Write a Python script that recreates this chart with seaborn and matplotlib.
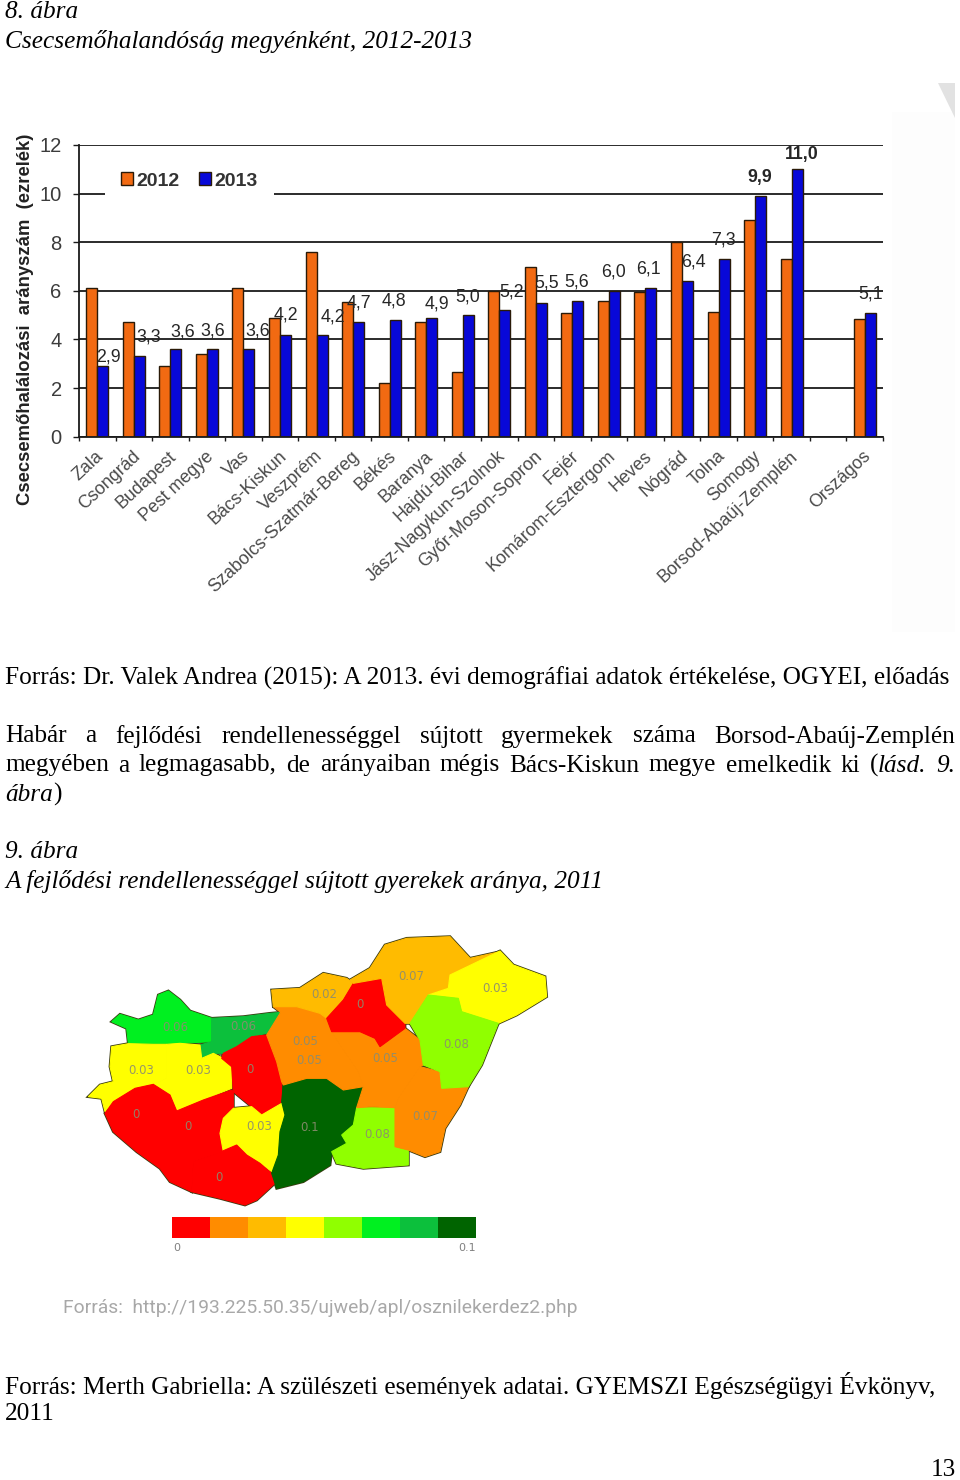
import numpy as np
import pandas as pd
import matplotlib
matplotlib.use("Agg")
import matplotlib.pyplot as plt
from matplotlib.colors import ListedColormap
from matplotlib.patches import Polygon, Rectangle
from matplotlib.transforms import ScaledTranslation
import seaborn as sns

# ---------- bar chart data ----------
counties = ["Zala", "Csongrád", "Budapest", "Pest megye", "Vas", "Bács-Kiskun", "Veszprém",
            "Szabolcs-Szatmár-Bereg", "Békés", "Baranya", "Hajdú-Bihar", "Jász-Nagykun-Szolnok",
            "Győr-Moson-Sopron", "Fejér", "Komárom-Esztergom", "Heves", "Nógrád", "Tolna",
            "Somogy", "Borsod-Abaúj-Zemplén", " ", "Országos"]
values_2012 = [6.1, 4.7, 2.9, 3.4, 6.1, 4.9, 7.6, 5.55, 2.2, 4.7, 2.65, 6.0, 7.0, 5.1, 5.6,
               5.95, 8.0, 5.15, 8.9, 7.3, np.nan, 4.85]
values_2013 = [2.9, 3.3, 3.6, 3.6, 3.6, 4.2, 4.2, 4.7, 4.8, 4.9, 5.0, 5.2, 5.5, 5.6, 6.0,
               6.1, 6.4, 7.3, 9.9, 11.0, np.nan, 5.1]
label_dx = [6, 9, 7, 0, 9, 0, 11, 0, -1, 5, -1, 7, 5, -1, -1, -2, 6, -1, -1, 5, 0, 0]
label_dy = [9, 19, 17, 18, 18, 20, 18, 19, 19, 14, 18, 18, 20, 19, 19, 19, 19, 19, 19, 15, 0, 19]
year_colors = {"2012": "#f26a12", "2013": "#0808d8"}
y_ticks = [0, 2, 4, 6, 8, 10, 12]

# ---------- map data (outlines in the 3x zoomed map space) ----------
class_colors = ["#ff0000", "#ff8c00", "#ffbb00", "#ffff00", "#90ff00", "#00f020", "#0cc03c", "#006400"]
legend_classes = [0, 1, 2, 3, 4, 5, 6, 7]
regions = {
    "Győr-Moson-Sopron": (5, [(125,290),(150,268),(205,285),(250,270),(265,210),(295,198),(330,225),(360,258),(425,280),(425,350),(330,355),(175,355),(170,310)]),
    "Komárom-Esztergom": (6, [(425,280),(520,275),(600,265),(632,262),(625,285),(590,325),(545,335),(500,365),(460,385),(430,385),(395,400),(390,360),(425,350)]),
    "Vas": (3, [(125,365),(175,356),(250,358),(290,358),(290,460),(250,478),(195,490),(130,530),(105,560),(95,520),(55,515),(90,480),(130,470),(120,425)]),
    "Veszprém": (3, [(290,358),(330,355),(390,360),(395,400),(430,385),(460,400),(485,425),(485,490),(400,525),(320,558),(300,510),(250,478),(290,460)]),
    "Zala": (0, [(105,565),(130,530),(195,490),(250,478),(300,510),(320,558),(400,525),(485,495),(490,500),(490,550),(460,580),(450,625),(460,680),(430,690),(370,710),(365,800),(300,770),(270,730),(200,680),(130,620)]),
    "Fejér": (0, [(460,385),(500,365),(545,335),(590,330),(620,410),(635,470),(635,530),(600,560),(575,570),(545,545),(490,500),(485,425),(455,400)]),
    "Tolna": (3, [(490,550),(545,545),(575,570),(635,535),(645,570),(630,620),(625,690),(605,740),(570,715),(530,690),(500,660),(460,680),(450,625),(460,580)]),
    "Baranya": (0, [(370,710),(430,690),(500,660),(530,690),(570,715),(605,745),(620,770),(560,825),(525,840),(450,820),(365,800)]),
    "Bács-Kiskun": (7, [(640,480),(710,460),(770,460),(820,495),(880,485),(860,548),(850,600),(815,630),(830,655),(785,680),(780,720),(700,770),(620,790),(605,745),(625,690),(630,620),(645,570),(635,530)]),
    "Csongrád": (4, [(860,548),(975,548),(975,665),(1015,675),(1015,720),(880,730),(800,715),(785,680),(830,655),(815,630),(850,600)]),
    "Békés": (1, [(985,520),(1050,425),(1110,440),(1115,490),(1195,485),(1170,540),(1125,610),(1110,680),(1065,695),(1015,675),(975,665),(975,548)]),
    "Jász-Nagykun-Szolnok": (1, [(785,320),(810,320),(870,320),(915,340),(930,365),(1005,310),(1050,345),(1060,420),(1050,425),(985,520),(975,548),(905,545),(860,548),(880,485),(865,440),(810,360)]),
    "Pest": (1, [(610,245),(680,245),(750,265),(770,280),(785,320),(810,360),(865,440),(880,485),(820,495),(770,460),(710,460),(640,480),(635,470),(620,410),(590,330),(632,262)]),
    "Nógrád": (2, [(605,195),(690,190),(760,145),(830,160),(850,175),(820,225),(770,280),(750,265),(680,245),(610,245)]),
    "Heves": (0, [(850,175),(935,160),(950,240),(1005,295),(1005,310),(930,365),(915,340),(870,320),(810,320),(785,320),(770,280),(820,225)]),
    "Borsod": (2, [(840,165),(900,130),(945,60),(1010,40),(1140,35),(1200,100),(1290,80),(1140,150),(1135,190),(1075,210),(1020,295),(1005,295),(950,240),(935,160),(850,175)]),
    "Szabolcs": (3, [(1140,150),(1290,78),(1330,120),(1425,155),(1430,215),(1340,270),(1285,295),(1175,260),(1165,220),(1075,210),(1135,190)]),
    "Hajdú-Bihar": (4, [(1075,210),(1165,220),(1175,260),(1285,295),(1235,420),(1195,485),(1115,490),(1110,440),(1060,420),(1050,345),(1020,295)]),
}
map_labels = [("0.07",1025,155),("0.03",1275,190),("0.02",762,208),("0",870,240),("0.05",705,350),
              ("0.05",718,405),("0.05",945,402),("0.08",1160,358),("0.06",315,308),("0.06",520,305),
              ("0.03",215,435),("0.03",385,435),("0",540,433),("0",197,567),("0",355,605),
              ("0.03",568,605),("0.1",718,607),("0.08",922,627),("0.07",1065,575),("0",447,758)]

# ---------- page text ----------
SERIF = "Liberation Serif"
BODY = 18.23
justified_lines = [
    (736.5, [("Habár", 0), ("a", 0), ("fejlődési", 0), ("rendellenességgel", 0), ("sújtott", 0), ("gyermekek", 0),
             ("száma", 0), ("Borsod-Abaúj-Zemplén", 0)]),
    (765.5, [("megyében", 0), ("a", 0), ("legmagasabb,", 0), ("de", 0), ("arányaiban", 0), ("mégis", 0),
             ("Bács-Kiskun", 0), ("megye", 0), ("emelkedik", 0), ("ki", 0), ("(", 0, "lásd.", 1), ("9.", 1)]),
]
plain_lines = [
    (12.5, "8. ábra", "italic"),
    (41.5, "Csecsemőhalandóság megyénként, 2012-2013", "italic"),
    (678.5, "Forrás: Dr. Valek Andrea (2015): A 2013. évi demográfiai adatok értékelése, OGYEI, előadás", "normal"),
    (852.5, "9. ábra", "italic"),
    (881.5, "A fejlődési rendellenességgel sújtott gyerekek aránya, 2011", "italic"),
    (1385.5, "Forrás: Merth Gabriella: A szülészeti események adatai. GYEMSZI Egészségügyi Évkönyv,", "normal"),
    (1414.5, "2011", "normal"),
]

# ---------- figure ----------
sns.set_theme(style="white")
plt.rcParams["font.family"] = ["Liberation Sans", "DejaVu Sans"]
fig = plt.figure(figsize=(9.6, 14.8), dpi=100, facecolor="white")
W, H = 960.0, 1480.0


def box(x0, y0, x1, y1):
    return [x0 / W, 1 - y1 / H, (x1 - x0) / W, (y1 - y0) / H]


# faint scan background of the chart picture
fig.patches.append(Rectangle((892 / W, 1 - 632 / H), 63 / W, 520 / H, transform=fig.transFigure, fc="#fdfdfd", ec="none"))
fig.patches.append(Polygon([(938 / W, 1 - 83 / H), (955 / W, 1 - 83 / H), (955 / W, 1 - 118 / H)],
                           transform=fig.transFigure, fc="#e2e2e2", ec="none"))

ax = fig.add_axes(box(79, 145, 883, 436.7), facecolor="white")
df = pd.DataFrame({
    "megye": counties * 2,
    "év": ["2012"] * len(counties) + ["2013"] * len(counties),
    "érték": values_2012 + values_2013,
})
sns.barplot(data=df, x="megye", y="érték", hue="év", order=counties, palette=year_colors, saturation=1,
            width=0.6, gap=0, dodge=True, edgecolor="#2a1a08", linewidth=1.0, errorbar=None, ax=ax)
ax.set_xlim(-0.5, len(counties) - 0.5)
ax.set_ylim(0, 12)
ax.set_yticks(y_ticks)
ax.set_axisbelow(True)
ax.yaxis.grid(True, color="#1a1a1a", lw=1.3)
ax.xaxis.grid(False)
for side in ["top", "right"]:
    ax.spines[side].set_visible(False)
for side in ["left", "bottom"]:
    ax.spines[side].set_color("#1a1a1a")
    ax.spines[side].set_linewidth(1.3)
ax.tick_params(axis="y", length=4.5, width=1.0, color="#1a1a1a", labelsize=14.5, labelcolor="#3c3c3c", pad=8, left=True)
ax.set_xticks(range(len(counties)))
ax.set_xticklabels(counties, rotation=43, ha="right", rotation_mode="anchor",
                   fontsize=12.9, color="#4a4a4a")
ax.tick_params(axis="x", which="major", length=0, pad=8, bottom=False)
shift = ScaledTranslation(-2 / 100, 0, fig.dpi_scale_trans)
for lab in ax.get_xticklabels():
    lab.set_transform(lab.get_transform() + shift)
ax.set_xticks(np.arange(-0.5, len(counties)), minor=True)
ax.tick_params(axis="x", which="minor", length=3.0, width=1.0, color="#1a1a1a", bottom=True)
ax.set_xlabel("")
ax.set_ylabel("")

for i, (v, dx, dy) in enumerate(zip(values_2013, label_dx, label_dy)):
    if np.isnan(v):
        continue
    txt = f"{v:.1f}".replace(".", ",")
    ax.annotate(txt, xy=(i + 0.15, v), xytext=(dx, dy), textcoords="offset pixels",
                ha="center", va="center", fontsize=12.8, color="#262626",
                fontweight="bold" if v > 9 else "normal", annotation_clip=False, zorder=6)

handles, labels = ax.get_legend_handles_labels()
leg = ax.legend(handles, labels, loc="center", bbox_to_anchor=((189.5 - 79) / 804, (436.7 - 181) / 291.7),
                ncol=2, frameon=True, framealpha=1, facecolor="white", edgecolor="none", fancybox=False,
                handlelength=0.6, handleheight=0.6, handletextpad=0.2, columnspacing=0.99,
                borderpad=0.85, borderaxespad=0,
                prop={"size": 14, "weight": "bold"}, labelcolor="#333333")
leg.set_zorder(2)

fig.text(26 / W, 1 - 319 / H, "Csecsemőhalálozási  arányszám  (ezrelék)", rotation=90, ha="center", va="center",
         fontsize=13.3, fontweight="bold", color="#222222")

# ---------- map ----------
map_ax = fig.add_axes(box(70, 925, 560, 1225))
map_ax.set_xlim(0, 1470)
map_ax.set_ylim(900, 0)
map_ax.axis("off")
for name, (cls, outline) in regions.items():
    map_ax.add_patch(Polygon(outline, closed=True, fc="#3a3a10", ec="#3a3a10", lw=2.0, zorder=1))
for name, (cls, outline) in regions.items():
    c = class_colors[cls]
    map_ax.add_patch(Polygon(outline, closed=True, fc=c, ec=c, lw=0.8, zorder=2))
for txt, x, y in map_labels:
    map_ax.text(x, y, txt, ha="center", va="center", fontsize=8.5, color="#8c8c70", alpha=0.9,
                family="DejaVu Sans", zorder=3)

# colour ramp of the map
cax = fig.add_axes(box(172, 1217, 476, 1238))
sns.heatmap(np.array([legend_classes]), cmap=ListedColormap(class_colors), cbar=False,
            xticklabels=False, yticklabels=False, ax=cax)
fig.text(177 / W, 1 - 1248 / H, "0", ha="center", va="center", fontsize=8, color="#808080", family="DejaVu Sans")
fig.text(467 / W, 1 - 1248 / H, "0.1", ha="center", va="center", fontsize=8, color="#808080", family="DejaVu Sans")
fig.text(63 / W, 1 - 1308 / H, "Forrás:  http://193.225.50.35/ujweb/apl/osznilekerdez2.php", ha="left", va="center",
         fontsize=13.9, color="#a8a8a8", family="Roboto")

# ---------- page text ----------
fig.canvas.draw()
renderer = fig.canvas.get_renderer()


def put(x, y, s, italic=False):
    return fig.text(x / W, 1 - y / H, s, ha="left", va="center", family=SERIF, fontsize=BODY,
                    style="italic" if italic else "normal", color="#000000")


def width(t):
    return t.get_window_extent(renderer).width


for y, s, st in plain_lines:
    put(5, y, s, st == "italic")

for y, words in justified_lines:
    pieces = []
    for w in words:
        parts = [(w[k], bool(w[k + 1])) for k in range(0, len(w), 2)]
        ts = [put(0, y, s, it) for s, it in parts]
        pieces.append((ts, [width(t) for t in ts]))
    total = sum(sum(ws) for _, ws in pieces)
    gap = (955 - 5 - total) / (len(pieces) - 1)
    x = 5.0
    for ts, ws in pieces:
        for t, w_ in zip(ts, ws):
            t.set_x(x / W)
            x += w_
        x += gap

t1 = put(5, 794.5, "ábra", True)
put(5 + width(t1), 794.5, ")")
fig.text(956 / W, 1 - 1469.5 / H, "13", ha="right", va="center", family=SERIF, fontsize=BODY, color="#000000")

fig.savefig("out.png", dpi=100, facecolor="white")
